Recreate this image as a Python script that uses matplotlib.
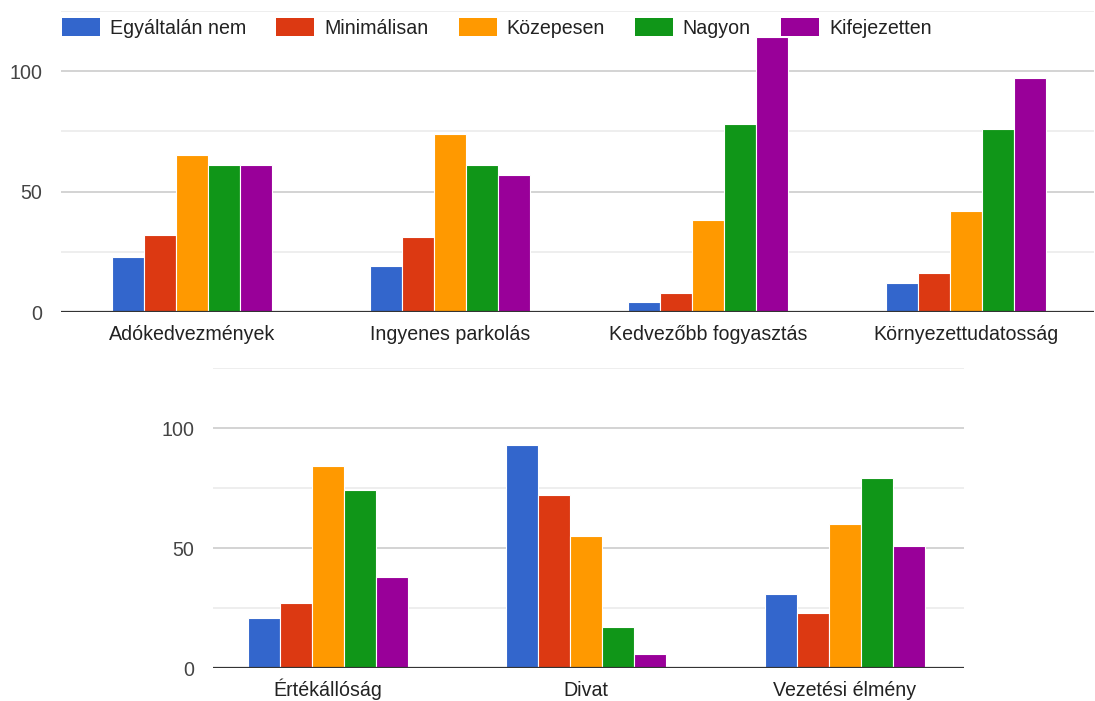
import matplotlib
matplotlib.use("Agg")
import matplotlib.pyplot as plt
from matplotlib.patches import Rectangle
import numpy as np

plt.rcParams['font.family'] = ['Liberation Sans', 'DejaVu Sans']

series = ["Egyáltalán nem", "Minimálisan", "Közepesen", "Nagyon", "Kifejezetten"]
colors = ["#3366cc", "#dc3912", "#ff9900", "#109618", "#990099"]

top_categories = ["Adókedvezmények", "Ingyenes parkolás", "Kedvezőbb fogyasztás", "Környezettudatosság"]
top_values = {
    "Egyáltalán nem": [23, 19, 4, 12],
    "Minimálisan":    [32, 31, 8, 16],
    "Közepesen":      [65, 74, 38, 42],
    "Nagyon":         [61, 61, 78, 76],
    "Kifejezetten":   [61, 57, 114, 97],
}

bottom_categories = ["Értékállóság", "Divat", "Vezetési élmény"]
bottom_values = {
    "Egyáltalán nem": [21, 93, 31],
    "Minimálisan":    [27, 72, 23],
    "Közepesen":      [84, 55, 60],
    "Nagyon":         [74, 17, 79],
    "Kifejezetten":   [38, 6, 51],
}

major_ticks = [0, 50, 100]
minor_ticks = [25, 75, 125]

W, H = 1095, 701
FS = 14.1
fig = plt.figure(figsize=(W / 100, H / 100), dpi=100)


def px_axes(left, top, right, bottom):
    return fig.add_axes([left / W, 1 - bottom / H, (right - left) / W, (bottom - top) / H])


def draw_panel(ax, categories, values, xlim):
    x = np.arange(len(categories))
    bw = 0.124
    n = len(series)
    for i, name in enumerate(series):
        ax.bar(x + (i - (n - 1) / 2) * bw, values[name], width=bw,
               color=colors[i], edgecolor="white", linewidth=0.8, zorder=3)
    ax.set_xlim(*xlim)
    ax.set_ylim(0, 125)
    ax.set_yticks(major_ticks)
    ax.set_yticks(minor_ticks, minor=True)
    ax.set_yticklabels([str(t) for t in major_ticks])
    ax.grid(axis="y", which="major", color="#cccccc", linewidth=1.2, zorder=0)
    ax.grid(axis="y", which="minor", color="#ebebeb", linewidth=1.2, zorder=0)
    ax.axhline(0, color="#333333", linewidth=1.6, zorder=4)
    ax.set_xticks(x)
    ax.set_xticklabels(categories, va="baseline")
    # baseline of category labels sits about 28 px below the axis line
    ax.tick_params(axis="x", length=0, pad=20.2, labelsize=FS, labelcolor="#222222")
    ax.tick_params(axis="y", which="both", length=0, pad=13.5, labelsize=FS, labelcolor="#444444")
    for s in ax.spines.values():
        s.set_visible(False)
    ax.set_axisbelow(True)


ax_top = px_axes(61, 11, 1094, 312)
draw_panel(ax_top, top_categories, top_values, (-0.507, 3.497))

ax_bot = px_axes(213, 368, 964, 668)
draw_panel(ax_bot, bottom_categories, bottom_values, (-0.445, 2.462))

# Legend row across the top
fig.canvas.draw()
renderer = fig.canvas.get_renderer()
x_px = 62
y_c = 27
sw_w, sw_h = 38, 18
for name, col in zip(series, colors):
    fig.patches.append(Rectangle((x_px / W, 1 - (y_c + sw_h / 2) / H), sw_w / W, sw_h / H,
                                 transform=fig.transFigure, facecolor=col,
                                 edgecolor="none", zorder=5))
    t = fig.text((x_px + sw_w + 10) / W, 1 - (y_c + 1) / H, name, fontsize=FS,
                 color="#222222", va="center", ha="left")
    tw = t.get_window_extent(renderer=renderer).width
    x_px = x_px + sw_w + 10 + tw + 30

fig.savefig("out.png", dpi=100, facecolor="white")
